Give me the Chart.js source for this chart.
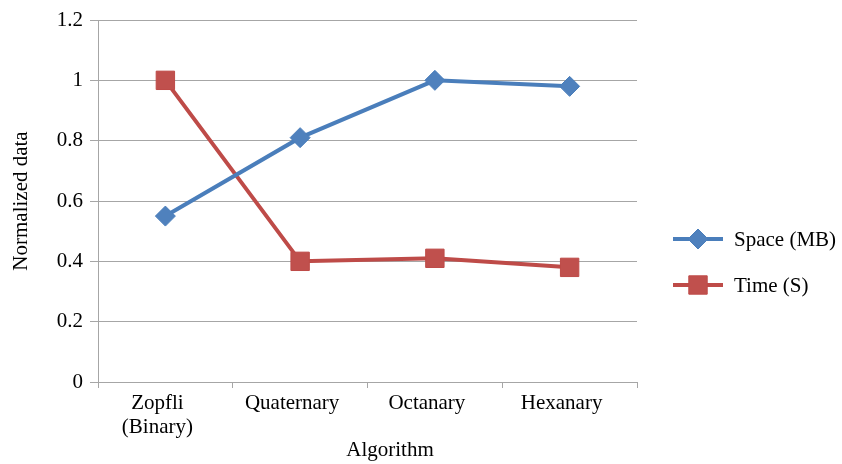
<!DOCTYPE html>
<html>
<head>
<meta charset="utf-8">
<script src="https://cdn.jsdelivr.net/npm/chart.js@4"></script>
<style>
  html, body { margin: 0; padding: 0; background: #ffffff; }
  #wrap { width: 842px; height: 464px; position: relative; }
</style>
</head>
<body>
<div id="wrap"><canvas id="c" width="842" height="464"></canvas></div>
<script>
const categories = [["Zopfli", "(Binary)"], "Quaternary", "Octanary", "Hexanary"];
const spaceMB = [0.55, 0.81, 1.0, 0.98];
const timeS = [1.0, 0.40, 0.41, 0.38];
const seriesNames = ["Space (MB)", "Time (S)"];
const yTicks = [0, 0.2, 0.4, 0.6, 0.8, 1, 1.2];
const xTitle = "Algorithm";
const yTitle = "Normalized data";

const FONT = "'Liberation Serif', 'Times New Roman', serif";
const GRID = "#a6a6a6";

const legendPlugin = {
  id: 'sideLegend',
  afterDraw(chart) {
    const ctx = chart.ctx;
    const ys = [239, 285];
    chart.data.datasets.forEach((ds, i) => {
      const y = ys[i];
      ctx.save();
      ctx.strokeStyle = ds.borderColor;
      ctx.lineWidth = ds.borderWidth;
      ctx.beginPath();
      ctx.moveTo(673, y);
      ctx.lineTo(723, y);
      ctx.stroke();
      ctx.fillStyle = ds.pointBackgroundColor;
      ctx.strokeStyle = ds.pointBorderColor;
      ctx.lineWidth = 1;
      Chart.helpers.drawPoint(ctx, { pointStyle: ds.pointStyle, radius: ds.pointRadius, rotation: 0, borderWidth: 1 }, 698, y);
      ctx.fillStyle = '#000';
      ctx.font = "21px " + FONT;
      ctx.textBaseline = 'middle';
      ctx.textAlign = 'left';
      ctx.fillText(ds.label, 734, y + 1);
      ctx.restore();
    });
    // x axis title
    ctx.save();
    ctx.fillStyle = '#000';
    ctx.font = "21px " + FONT;
    ctx.textAlign = 'center';
    ctx.textBaseline = 'middle';
    ctx.fillText(xTitle, 390, 450);
    ctx.restore();
  }
};

new Chart(document.getElementById('c'), {
  type: 'line',
  data: {
    labels: categories,
    datasets: [
      {
        label: seriesNames[0],
        data: spaceMB,
        borderColor: '#4a7ebb',
        borderWidth: 4,
        pointStyle: 'rectRot',
        pointRadius: 10,
        pointHoverRadius: 10,
        pointBackgroundColor: '#4f81bd',
        pointBorderColor: '#4a7ebb',
        pointBorderWidth: 1,
        tension: 0
      },
      {
        label: seriesNames[1],
        data: timeS,
        borderColor: '#be4b48',
        borderWidth: 4,
        pointStyle: 'rect',
        pointRadius: 13,
        pointHoverRadius: 13,
        pointBackgroundColor: '#c0504d',
        pointBorderColor: '#be4b48',
        pointBorderWidth: 1,
        tension: 0
      }
    ]
  },
  options: {
    responsive: false,
    animation: false,
    devicePixelRatio: 1,
    layout: { padding: { left: 0, top: 20, right: 205, bottom: 0 } },
    plugins: {
      legend: { display: false },
      tooltip: { enabled: false }
    },
    scales: {
      x: {
        type: 'category',
        offset: true,
        grid: { offset: true, drawOnChartArea: false, drawTicks: true, tickLength: 6, color: GRID, lineWidth: 1 },
        border: { color: GRID, width: 1 },
        ticks: { color: '#000', font: { family: FONT, size: 21, lineHeight: 1.15 }, padding: 3, maxRotation: 0, autoSkip: false, labelOffset: -8 },
        title: { display: false },
        afterFit(scale) { scale.height = 82; }
      },
      y: {
        min: 0,
        max: 1.2,
        afterBuildTicks(scale) { scale.ticks = yTicks.map(v => ({ value: v })); },
        grid: { color: GRID, lineWidth: 1, tickLength: 8, drawTicks: true },
        border: { color: GRID, width: 1 },
        ticks: {
          color: '#000', font: { family: FONT, size: 21 }, padding: 7,
          callback: (v) => String(Number(v.toFixed(1)))
        },
        title: { display: true, text: yTitle, color: '#000', font: { family: FONT, size: 21 }, padding: { top: 9, bottom: 0 } },
        afterFit(scale) { scale.width = 98; }
      }
    }
  },
  plugins: [legendPlugin]
});
</script>
</body>
</html>
